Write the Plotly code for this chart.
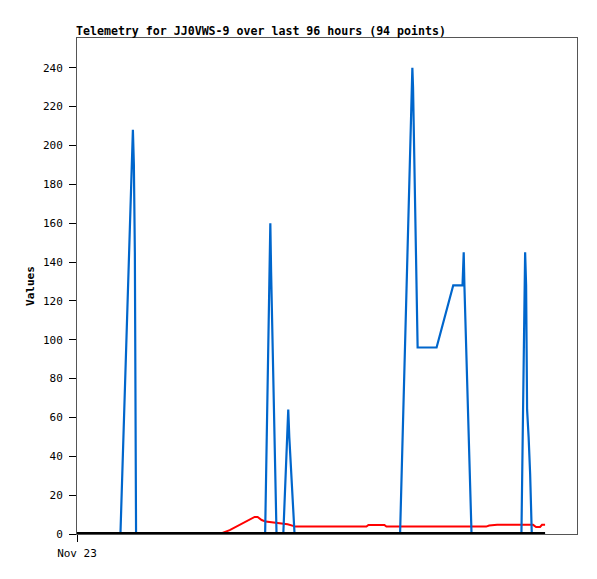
import pandas as pd
import plotly.graph_objects as go

# hours since Nov 23 00:00 and values
BASE = pd.Timestamp("2023-11-23 00:00")

blue_hours = [0.0, 8.34, 10.73, 10.92, 11.11, 11.34,
              36.12, 37.12, 37.27, 38.31,
              39.61, 40.56, 40.76, 41.77,
              62.03, 64.39, 64.52, 65.40, 69.04, 72.24, 74.02, 74.25, 74.38, 75.75,
              85.33, 86.04, 86.23, 86.42, 86.71, 87.00, 87.32, 89.87]
blue_vals = [0, 0, 208, 190, 145, 0,
             0, 160, 135, 0,
             0, 64, 50, 0,
             0, 240, 230, 96, 96, 128, 128, 145, 128, 0,
             0, 145, 128, 64, 50, 31, 0, 0]

red_hours = [0.0, 27.92, 29.32, 30.66, 32.0, 33.15, 34.11, 34.68, 35.45, 36.22,
             38.13, 40.43, 41.97, 55.57, 55.95, 59.02, 59.40, 78.57, 79.14,
             80.67, 87.57, 88.14, 88.91, 89.28, 89.87]
red_vals = [0, 0.5, 2.0, 4.0, 6.0, 7.6, 8.8, 8.8, 7.2, 6.4,
            5.6, 5.0, 3.8, 3.8, 4.6, 4.6, 3.8, 3.8, 4.4,
            4.7, 4.7, 3.6, 3.6, 4.7, 4.7]

black_hours = [0.0, 89.87]
black_vals = [0, 0]

y_ticks = list(range(0, 241, 20))
x_tick_label = "Nov 23"
title = "Telemetry for JJ0VWS-9 over last 96 hours (94 points)"


def to_time(hours):
    return BASE + pd.to_timedelta(hours, unit="h")


FONT = "DejaVu Sans Mono, monospace"

fig = go.Figure()
fig.add_trace(go.Scatter(x=to_time(red_hours), y=red_vals, mode="lines",
                         line=dict(color="#FF0000", width=2), name="red"))
fig.add_trace(go.Scatter(x=to_time(blue_hours), y=blue_vals, mode="lines",
                         line=dict(color="#0066CC", width=2.2), name="blue"))
fig.add_trace(go.Scatter(x=to_time(black_hours), y=black_vals, mode="lines",
                         line=dict(color="#000000", width=4), name="black"))

# page body has an 8px margin, so the figure is sized to sit inside it
fig.update_layout(
    width=581, height=563,
    paper_bgcolor="white", plot_bgcolor="white",
    margin=dict(l=69, r=11, t=30, b=33),
    showlegend=False,
    font=dict(family=FONT, size=11, color="black"),
    xaxis=dict(
        range=[BASE, to_time(96)],
        tickvals=[BASE], ticktext=[x_tick_label],
        ticks="outside", ticklen=7, tickcolor="black",
        ticklabelstandoff=2,
        showgrid=False, zeroline=False,
        showline=True, linecolor="#555555", linewidth=1, mirror=True,
        tickfont=dict(family=FONT, size=11, color="black"),
    ),
    yaxis=dict(
        range=[0, 255.3],
        tickvals=y_ticks,
        ticks="outside", ticklen=7, tickcolor="black",
        ticklabelstandoff=4,
        showgrid=False, zeroline=False,
        showline=True, linecolor="#555555", linewidth=1, mirror=True,
        tickfont=dict(family=FONT, size=11, color="black"),
        title=dict(text="<b>Values</b>", font=dict(family=FONT, size=11, color="black"),
                   standoff=6),
    ),
)

fig.add_annotation(
    text=f"<b>{title}</b>", xref="paper", yref="paper", x=0, y=1,
    xanchor="left", yanchor="bottom", xshift=-3, yshift=-2, showarrow=False,
    font=dict(family=FONT, size=11.6, color="black"),
)

fig.write_html("out.html")
